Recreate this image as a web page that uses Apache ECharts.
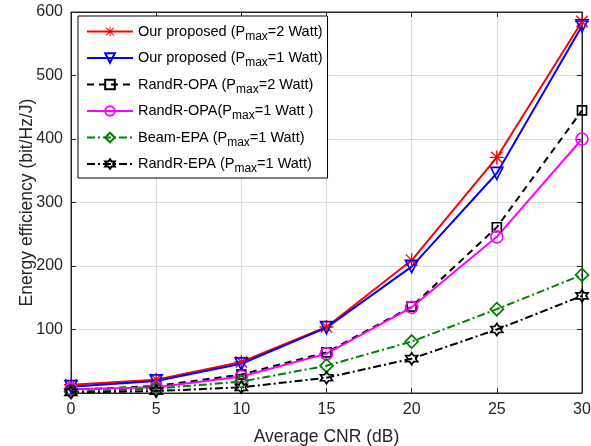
<!DOCTYPE html>
<html><head><meta charset="utf-8">
<script src="https://cdn.jsdelivr.net/npm/echarts@6/dist/echarts.min.js"></script>
<style>html,body{margin:0;padding:0;background:#fff}#c{width:591px;height:446px}</style>
</head><body><div id="c"></div>
<script>
const categories = [0, 5, 10, 15, 20, 25, 30];
const yTicks = [0, 100, 200, 300, 400, 500, 600];
const seriesNames = [
  'Our proposed (Pmax=2 Watt)',
  'Our proposed (Pmax=1 Watt)',
  'RandR-OPA (Pmax=2 Watt)',
  'RandR-OPA(Pmax=1 Watt )',
  'Beam-EPA (Pmax=1 Watt)',
  'RandR-EPA (Pmax=1 Watt)'
];
const ourP2 = [13, 21, 49, 104, 209, 371, 585];
const ourP1 = [10, 19, 46, 103, 199, 346, 578];
const oparP2 = [5, 11, 29, 64, 136, 261, 445];
const oparP1 = [6, 9, 26, 62, 135, 246, 400];
const beamEPA = [2, 7, 18, 43, 81, 132, 186];
const randEPA = [1, 3, 9, 24, 54, 100, 153];

const asterisk = 'path://M9,0L11,0L11,20L9,20Z M0,9L20,9L20,11L0,11Z M2.6,1.2L18.8,17.4L17.4,18.8L1.2,2.6Z M17.4,1.2L18.8,2.6L2.6,18.8L1.2,17.4Z';
const hexagram = 'path://M10,0L12.89,5L18.66,5L15.77,10L18.66,15L12.89,15L10,20L7.11,15L1.34,15L4.23,10L1.34,5L7.11,5Z';
const hollow = 'rgba(255,255,255,0)';

function mk(name, data, color, type, symbol, size, filled, rotate) {
  return {
    name, type: 'line', data: categories.map((c, i) => [c, data[i]]),
    symbol, symbolSize: size, symbolRotate: rotate || 0, showAllSymbol: true,
    lineStyle: { color, width: 2, type },
    itemStyle: filled ? { color, borderWidth: 0 } : { color: hollow, borderColor: color, borderWidth: 1.7 },
    emphasis: { disabled: true }, animation: false, z: 3
  };
}

const chart = echarts.init(document.getElementById('c'));
const font = 'Liberation Sans, Arial, Helvetica, sans-serif';
const axisCommon = {
  axisLine: { show: true, onZero: false, lineStyle: { color: '#262626', width: 1 } },
  axisTick: { show: true, inside: true, length: 5, lineStyle: { color: '#262626' } }
};
chart.setOption({
  animation: false,
  grid: { left: 71, right: 9, top: 12, bottom: 53, show: true, borderColor: '#262626', borderWidth: 1,
          containLabel: false, outerBoundsMode: 'none' },
  legend: {
    orient: 'vertical', left: 78, top: 16,
    backgroundColor: '#fff', borderColor: '#000', borderWidth: 1,
    padding: [8, 5, 3, 8], itemGap: 8, itemWidth: 46, itemHeight: 12,
    data: seriesNames,
    formatter: n => n.replace('Pmax', 'P{s|max}'),
    textStyle: {
      fontFamily: font, fontSize: 14.5, color: '#000',
      rich: { s: { fontFamily: font, fontSize: 12, color: '#000', padding: [10, 0, 0, 0] } }
    }
  },
  xAxis: [{
    type: 'value', min: 0, max: 30, interval: 5, position: 'bottom',
    name: 'Average CNR (dB)', nameLocation: 'middle', nameGap: 35, nameMoveOverlap: false,
    nameTextStyle: { fontFamily: font, fontSize: 17.5, color: '#262626' },
    axisLabel: { fontFamily: font, fontSize: 16, color: '#262626', margin: 9 },
    splitLine: { show: true, lineStyle: { color: '#dcdcdc', width: 1 } },
    ...axisCommon
  }, {
    type: 'value', min: 0, max: 30, interval: 5, position: 'top',
    axisLabel: { show: false }, splitLine: { show: false }, ...axisCommon
  }],
  yAxis: [{
    type: 'value', min: yTicks[0], max: yTicks[yTicks.length - 1], interval: 100,
    name: 'Energy efficiency (bit/Hz/J)', nameLocation: 'middle', nameGap: 35, nameMoveOverlap: false,
    nameTextStyle: { fontFamily: font, fontSize: 17.5, color: '#262626' },
    axisLabel: { fontFamily: font, fontSize: 16, color: '#262626', margin: 8,
      formatter: v => v === 0 ? '' : String(v) },
    splitLine: { show: true, lineStyle: { color: '#dcdcdc', width: 1 } },
    ...axisCommon
  }, {
    type: 'value', min: yTicks[0], max: yTicks[yTicks.length - 1], interval: 100, position: 'right',
    axisLabel: { show: false }, splitLine: { show: false }, ...axisCommon
  }],
  series: [
    mk(seriesNames[0], ourP2, '#ff0000', 'solid', asterisk, 14, true),
    mk(seriesNames[1], ourP1, '#0000ff', 'solid', 'triangle', 12, false, 180),
    mk(seriesNames[2], oparP2, '#000000', [7, 5], 'rect', 9, false),
    mk(seriesNames[3], oparP1, '#ff00ff', 'solid', 'circle', 12, false),
    mk(seriesNames[4], beamEPA, '#008000', [8, 3, 2, 3], 'diamond', 13, false),
    mk(seriesNames[5], randEPA, '#000000', [8, 3, 2, 3], hexagram, 12, false)
  ]
});
</script></body></html>
